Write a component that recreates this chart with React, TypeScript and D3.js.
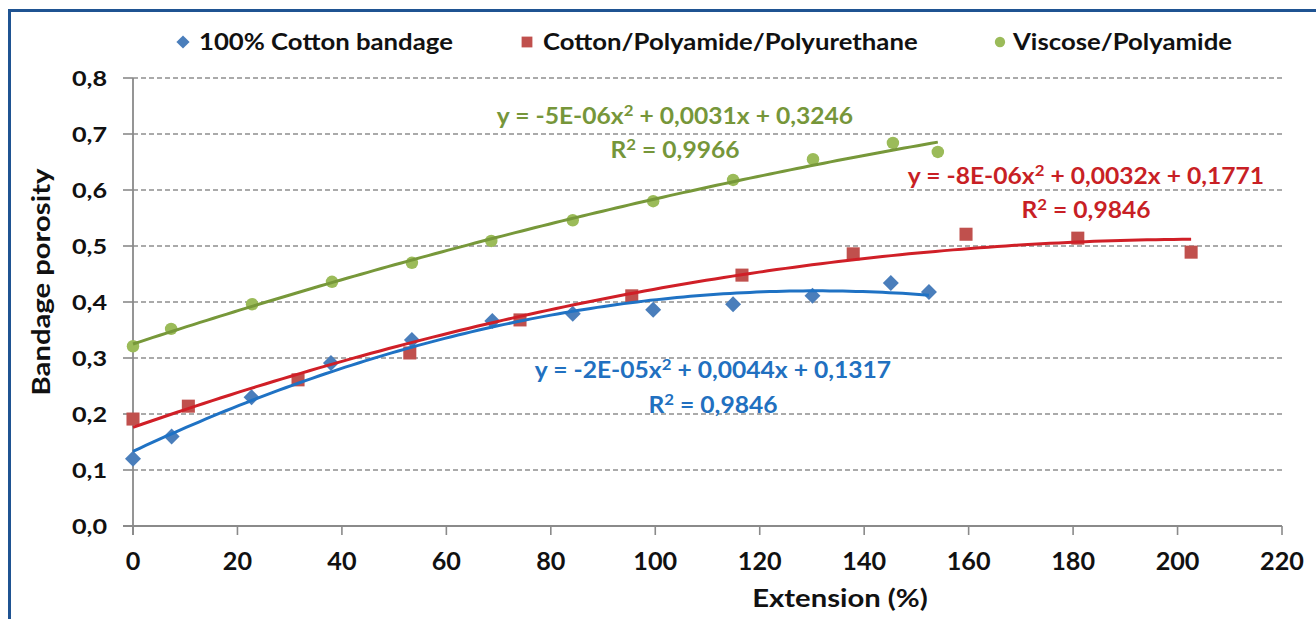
import React from "react";
import * as d3 from "d3";

// Extension (%) and porosity measurements for each bandage type
const cottonX = [0, 7.4, 22.7, 37.9, 53.4, 68.8, 84.2, 99.6, 114.9, 130.1, 145.1, 152.4];
const cottonY = [0.12, 0.16, 0.23, 0.291, 0.332, 0.366, 0.379, 0.386, 0.396, 0.411, 0.434, 0.418];

const cppX = [0, 10.6, 31.6, 53.0, 74.1, 95.5, 116.6, 137.9, 159.5, 180.9, 202.6];
const cppY = [0.191, 0.214, 0.261, 0.309, 0.368, 0.411, 0.448, 0.486, 0.521, 0.514, 0.489];

const viscoseX = [0, 7.3, 22.8, 38.1, 53.4, 68.6, 84.2, 99.6, 114.9, 130.2, 145.5, 154.1];
const viscoseY = [0.321, 0.352, 0.396, 0.436, 0.47, 0.509, 0.546, 0.58, 0.618, 0.655, 0.684, 0.668];

const seriesNames = ["100% Cotton bandage", "Cotton/Polyamide/Polyurethane", "Viscose/Polyamide"];
const equations = [
  ["y = -2E-05x", " + 0,0044x + 0,1317", "0,9846"],
  ["y = -8E-06x", " + 0,0032x + 0,1771", "0,9846"],
  ["y = -5E-06x", " + 0,0031x + 0,3246", "0,9966"],
];

const xTicks = d3.range(0, 221, 20);
const yTicks = d3.range(0, 0.81, 0.1);

const FONT = "Lato, 'Open Sans', sans-serif";

// Least-squares quadratic fit (normal equations, solved by Cramer's rule)
function quadFit(xs: number[], ys: number[]) {
  let s0 = xs.length, s1 = 0, s2 = 0, s3 = 0, s4 = 0, t0 = 0, t1 = 0, t2 = 0;
  xs.forEach((x, i) => {
    const y = ys[i];
    s1 += x; s2 += x * x; s3 += x ** 3; s4 += x ** 4;
    t0 += y; t1 += x * y; t2 += x * x * y;
  });
  const det3 = (m: number[][]) =>
    m[0][0] * (m[1][1] * m[2][2] - m[1][2] * m[2][1]) -
    m[0][1] * (m[1][0] * m[2][2] - m[1][2] * m[2][0]) +
    m[0][2] * (m[1][0] * m[2][1] - m[1][1] * m[2][0]);
  const A = [[s4, s3, s2], [s3, s2, s1], [s2, s1, s0]];
  const B = [t2, t1, t0];
  const D = det3(A);
  const sol = [0, 1, 2].map((k) => det3(A.map((row, r) => row.map((v, c) => (c === k ? B[r] : v)))) / D);
  return (x: number) => sol[0] * x * x + sol[1] * x + sol[2];
}

// Text drawn with a slight horizontal widening
function T(props: {
  x: number; y: number; sx?: number; rotate?: number; anchor?: string; size: number;
  fill?: string; dy?: string; children: React.ReactNode;
}) {
  const { x, y, sx = 1.17, rotate, anchor = "start", size, fill = "#111", dy, children } = props;
  return (
    <g transform={`translate(${x},${y})${rotate ? ` rotate(${rotate})` : ""} scale(${sx},1)`}>
      <text textAnchor={anchor as any} fontSize={size} fontWeight={700} fill={fill} dy={dy}>
        {children}
      </text>
    </g>
  );
}

export default function App() {
  const W = 1316, H = 619;
  const x = d3.scaleLinear().domain([0, 220]).range([133, 1282]);
  const y = d3.scaleLinear().domain([0, 0.8]).range([526, 78]);

  const series = [
    { xs: cottonX, ys: cottonY, marker: "#4a7ebb", line: "#1f72c4", text: "#2170c0", shape: "diamond" },
    { xs: cppX, ys: cppY, marker: "#c0504d", line: "#d01f27", text: "#c81f25", shape: "square" },
    { xs: viscoseX, ys: viscoseY, marker: "#9bbb59", line: "#77983a", text: "#76963a", shape: "circle" },
  ];

  const line = d3.line<number[]>().x((d) => x(d[0])).y((d) => y(d[1]));

  const marker = (shape: string, cx: number, cy: number, color: string, s: number, key: any) => {
    if (shape === "diamond") {
      const r = s * 0.55;
      return <path key={key} d={`M${cx},${cy - r}L${cx + r},${cy}L${cx},${cy + r}L${cx - r},${cy}Z`} fill={color} />;
    }
    if (shape === "square") {
      const r = s * 0.45;
      return <rect key={key} x={cx - r} y={cy - r} width={2 * r} height={2 * r} fill={color} />;
    }
    return <circle key={key} cx={cx} cy={cy} r={s * 0.43} fill={color} />;
  };

  const eqPos = [
    { cx: 713, y1: 378, y2: 413 },
    { cx: 1086, y1: 184, y2: 218 },
    { cx: 675, y1: 124, y2: 158 },
  ];

  const legendPos = [
    { mx: 183, tx: 199 },
    { mx: 527, tx: 543 },
    { mx: 1000, tx: 1013 },
  ];

  return (
    <div style={{ position: "absolute", left: 0, top: 0 }}>
      <svg width={W} height={H} style={{ display: "block", fontFamily: FONT }}>
        <rect x={0} y={0} width={W} height={H} fill="#fff" />
        <rect x={9.5} y={10.5} width={W + 20} height={H + 20} fill="#fff" stroke="#1f5392" strokeWidth={3} />

        {/* gridlines */}
        {yTicks.slice(1).map((t, i) => (
          <line key={"g" + i} x1={133} x2={1282} y1={y(t)} y2={y(t)} stroke="#8f8f8f" strokeWidth={1.6} strokeDasharray="5,3" />
        ))}
        {/* y ticks */}
        {yTicks.map((t, i) => (
          <line key={"yt" + i} x1={123} x2={133} y1={y(t)} y2={y(t)} stroke="#8a8a8a" strokeWidth={1.6} />
        ))}
        {/* x ticks */}
        {xTicks.map((t, i) => (
          <line key={"xt" + i} x1={x(t)} x2={x(t)} y1={526} y2={535} stroke="#8a8a8a" strokeWidth={1.6} />
        ))}
        <line x1={133} x2={133} y1={78} y2={535} stroke="#8a8a8a" strokeWidth={1.8} />
        <line x1={123} x2={1282} y1={526} y2={526} stroke="#8a8a8a" strokeWidth={1.8} />

        {/* tick labels */}
        {yTicks.map((t, i) => (
          <T key={"yl" + i} x={107} y={y(t)} dy="0.36em" anchor="end" size={21} sx={1.2}>
            {d3.format(".1f")(t).replace(".", ",")}
          </T>
        ))}
        {xTicks.map((t, i) => (
          <T key={"xl" + i} x={x(t)} y={570} anchor="middle" size={24} sx={1.05}>
            {t}
          </T>
        ))}

        {/* axis titles */}
        <T x={840} y={607} anchor="middle" size={25}>Extension (%)</T>
        <T x={41} y={282} rotate={-90} anchor="middle" size={25} dy="0.36em">Bandage porosity</T>

        {/* markers */}
        {series.map((s, si) => (
          <g key={"m" + si}>{s.xs.map((xv, i) => marker(s.shape, x(xv), y(s.ys[i]), s.marker, 14.5, i))}</g>
        ))}

        {/* polynomial trend lines */}
        {series.map((s, si) => {
          const f = quadFit(s.xs, s.ys);
          const xmax = d3.max(s.xs) as number;
          const pts = d3.range(0, xmax, xmax / 120).concat([xmax]).map((v) => [v, f(v)]);
          return <path key={"t" + si} d={line(pts) || ""} fill="none" stroke={s.line} strokeWidth={3} />;
        })}

        {/* trend equations */}
        {series.map((s, si) => (
          <g key={"e" + si}>
            <T x={eqPos[si].cx} y={eqPos[si].y1} anchor="middle" size={22} sx={1.12} fill={s.text}>
              {equations[si][0]}
              <tspan dy={-8} fontSize={15}>2</tspan>
              <tspan dy={8}>{equations[si][1]}</tspan>
            </T>
            <T x={eqPos[si].cx} y={eqPos[si].y2} anchor="middle" size={22} sx={1.12} fill={s.text}>
              R<tspan dy={-8} fontSize={15}>2</tspan>
              <tspan dy={8}>{" = " + equations[si][2]}</tspan>
            </T>
          </g>
        ))}

        {/* legend */}
        {series.map((s, si) => (
          <g key={"l" + si}>
            {marker(s.shape, legendPos[si].mx, 42, s.marker, 12, "lm")}
            <T x={legendPos[si].tx} y={42} dy="0.36em" size={22}>{seriesNames[si]}</T>
          </g>
        ))}
      </svg>
    </div>
  );
}
